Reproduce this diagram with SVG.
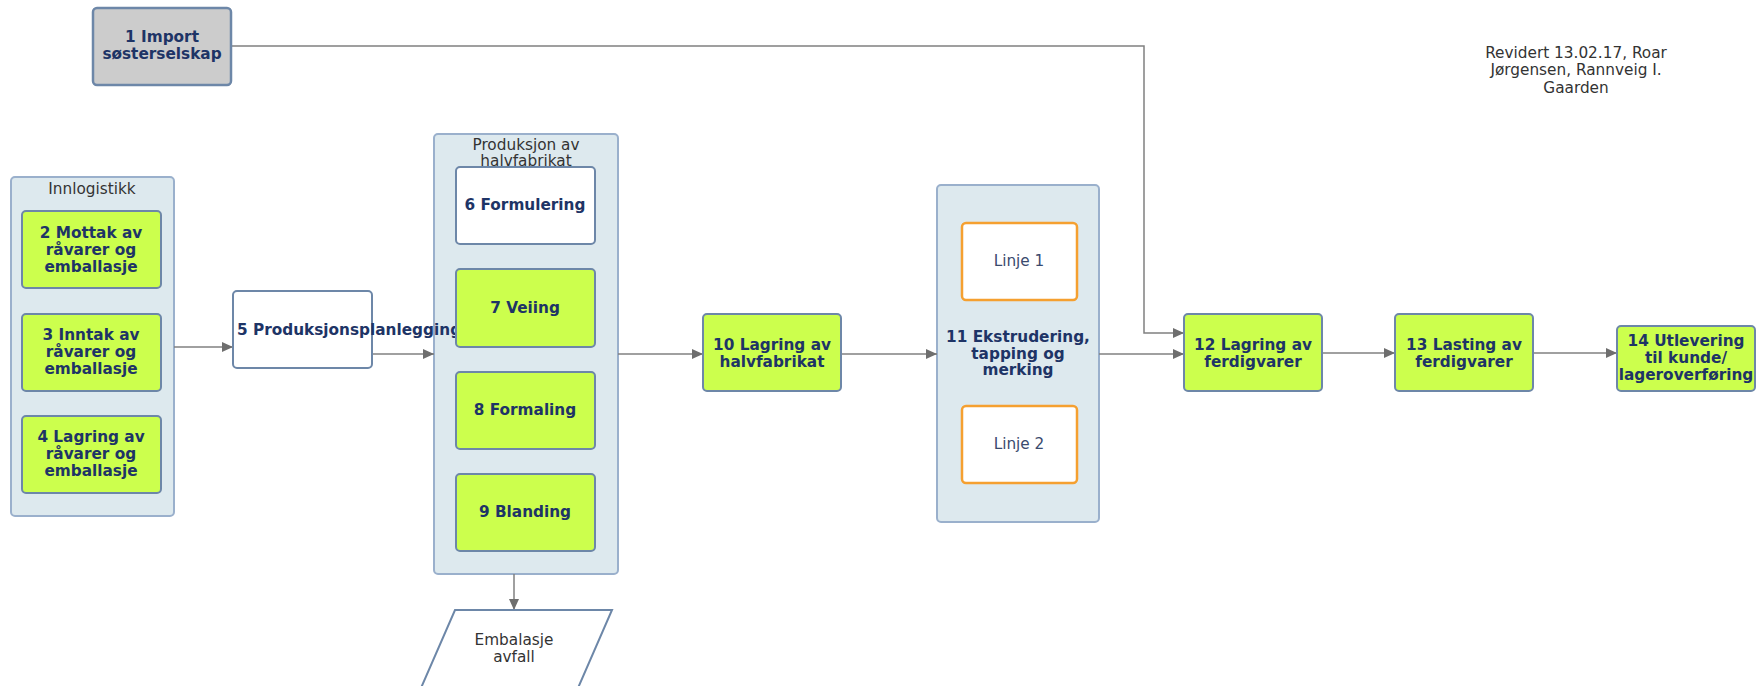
<svg xmlns="http://www.w3.org/2000/svg" width="1760" height="686" viewBox="0 0 1760 686">
<defs>
<marker id="arr" markerUnits="userSpaceOnUse" markerWidth="12" markerHeight="10" refX="11" refY="5" orient="auto">
<path d="M0,0 L11,5 L0,10 Z" fill="#6e6e6e"/>
</marker>
<style>
.cont{fill:#dde9ee;stroke:#9ab0cc;stroke-width:2}
.g{fill:#ccff4d;stroke:#6d87a8;stroke-width:2}
.w{fill:#ffffff;stroke:#6d87a8;stroke-width:2}
.gr{fill:#cccccc;stroke:#6d87a8;stroke-width:2.5}
.o{fill:#ffffff;stroke:#f5a030;stroke-width:2.5}
.t{font-family:"DejaVu Sans",sans-serif;font-weight:bold;font-size:15.3px;fill:#1e3466;text-anchor:middle;dominant-baseline:central}
.r{font-family:"DejaVu Sans",sans-serif;font-size:15.3px;fill:#333333;text-anchor:middle;dominant-baseline:central}
.l{font-family:"DejaVu Sans",sans-serif;font-size:15.3px;fill:#3a4a6e;text-anchor:middle;dominant-baseline:central}
.c{fill:none;stroke:#808080;stroke-width:1.5;marker-end:url(#arr)}
</style>
</defs>
<rect width="1760" height="686" fill="#ffffff"/>

<g id="note">
<text class="r" x="1576" y="53">Revidert 13.02.17, Roar</text>
<text class="r" x="1576" y="70">Jørgensen, Rannveig I.</text>
<text class="r" x="1576" y="88">Gaarden</text>
</g>

<g id="innlogistikk">
<rect class="cont" x="11" y="177" width="163" height="339" rx="4"/>
<text class="r" x="92" y="189">Innlogistikk</text>
</g>

<g id="produksjon">
<rect class="cont" x="434" y="134" width="184" height="440" rx="4"/>
<text class="r" x="526" y="145">Produksjon av</text>
<text class="r" x="526" y="161">halvfabrikat</text>
</g>

<g id="n11">
<rect class="cont" x="937" y="185" width="162" height="337" rx="4"/>
<text class="t" x="1018" y="337">11 Ekstrudering,</text>
<text class="t" x="1018" y="354">tapping og</text>
<text class="t" x="1018" y="370">merking</text>
</g>

<g id="connectors">
<path class="c" d="M231,46 H1144 V333 H1184"/>
<path class="c" d="M174,347 H233"/>
<path class="c" d="M372,354 H434"/>
<path class="c" d="M618,354 H703"/>
<path class="c" d="M841,354 H937"/>
<path class="c" d="M1099,354 H1184"/>
<path class="c" d="M1322,353 H1395"/>
<path class="c" d="M1533,353 H1617"/>
<path class="c" d="M514,574 V610"/>
</g>

<g id="n1">
<rect class="gr" x="93" y="8" width="138" height="77" rx="4"/>
<text class="t" x="162" y="37">1 Import</text>
<text class="t" x="162" y="54">søsterselskap</text>
</g>

<g id="n2">
<rect class="g" x="22" y="211" width="139" height="77" rx="4"/>
<text class="t" x="91" y="233">2 Mottak av</text>
<text class="t" x="91" y="250">råvarer og</text>
<text class="t" x="91" y="267">emballasje</text>
</g>

<g id="n3">
<rect class="g" x="22" y="314" width="139" height="77" rx="4"/>
<text class="t" x="91" y="335">3 Inntak av</text>
<text class="t" x="91" y="352">råvarer og</text>
<text class="t" x="91" y="369">emballasje</text>
</g>

<g id="n4">
<rect class="g" x="22" y="416" width="139" height="77" rx="4"/>
<text class="t" x="91" y="437">4 Lagring av</text>
<text class="t" x="91" y="454">råvarer og</text>
<text class="t" x="91" y="471">emballasje</text>
</g>

<g id="n5">
<rect class="w" x="233" y="291" width="139" height="77" rx="4"/>
<text class="t" x="237" y="330" style="text-anchor:start">5 Produksjonsplanlegging</text>
</g>

<g id="n6">
<rect class="w" x="456" y="167" width="139" height="77" rx="4"/>
<text class="t" x="525" y="205">6 Formulering</text>
</g>

<g id="n7">
<rect class="g" x="456" y="269" width="139" height="78" rx="4"/>
<text class="t" x="525" y="308">7 Veiing</text>
</g>

<g id="n8">
<rect class="g" x="456" y="372" width="139" height="77" rx="4"/>
<text class="t" x="525" y="410">8 Formaling</text>
</g>

<g id="n9">
<rect class="g" x="456" y="474" width="139" height="77" rx="4"/>
<text class="t" x="525" y="512">9 Blanding</text>
</g>

<g id="avfall">
<path d="M455,610 H612 L578,688 H421 Z" fill="#ffffff" stroke="#6d87a8" stroke-width="2"/>
<text class="r" x="514" y="640">Embalasje</text>
<text class="r" x="514" y="657">avfall</text>
</g>

<g id="n10">
<rect class="g" x="703" y="314" width="138" height="77" rx="4"/>
<text class="t" x="772" y="345">10 Lagring av</text>
<text class="t" x="772" y="362">halvfabrikat</text>
</g>

<g id="linje1">
<rect class="o" x="962" y="223" width="115" height="77" rx="4"/>
<text class="l" x="1019" y="261">Linje 1</text>
</g>

<g id="linje2">
<rect class="o" x="962" y="406" width="115" height="77" rx="4"/>
<text class="l" x="1019" y="444">Linje 2</text>
</g>

<g id="n12">
<rect class="g" x="1184" y="314" width="138" height="77" rx="4"/>
<text class="t" x="1253" y="345">12 Lagring av</text>
<text class="t" x="1253" y="362">ferdigvarer</text>
</g>

<g id="n13">
<rect class="g" x="1395" y="314" width="138" height="77" rx="4"/>
<text class="t" x="1464" y="345">13 Lasting av</text>
<text class="t" x="1464" y="362">ferdigvarer</text>
</g>

<g id="n14">
<rect class="g" x="1617" y="326" width="138" height="65" rx="4"/>
<text class="t" x="1686" y="341">14 Utlevering</text>
<text class="t" x="1686" y="358">til kunde/</text>
<text class="t" x="1686" y="375">lageroverføring</text>
</g>
</svg>
